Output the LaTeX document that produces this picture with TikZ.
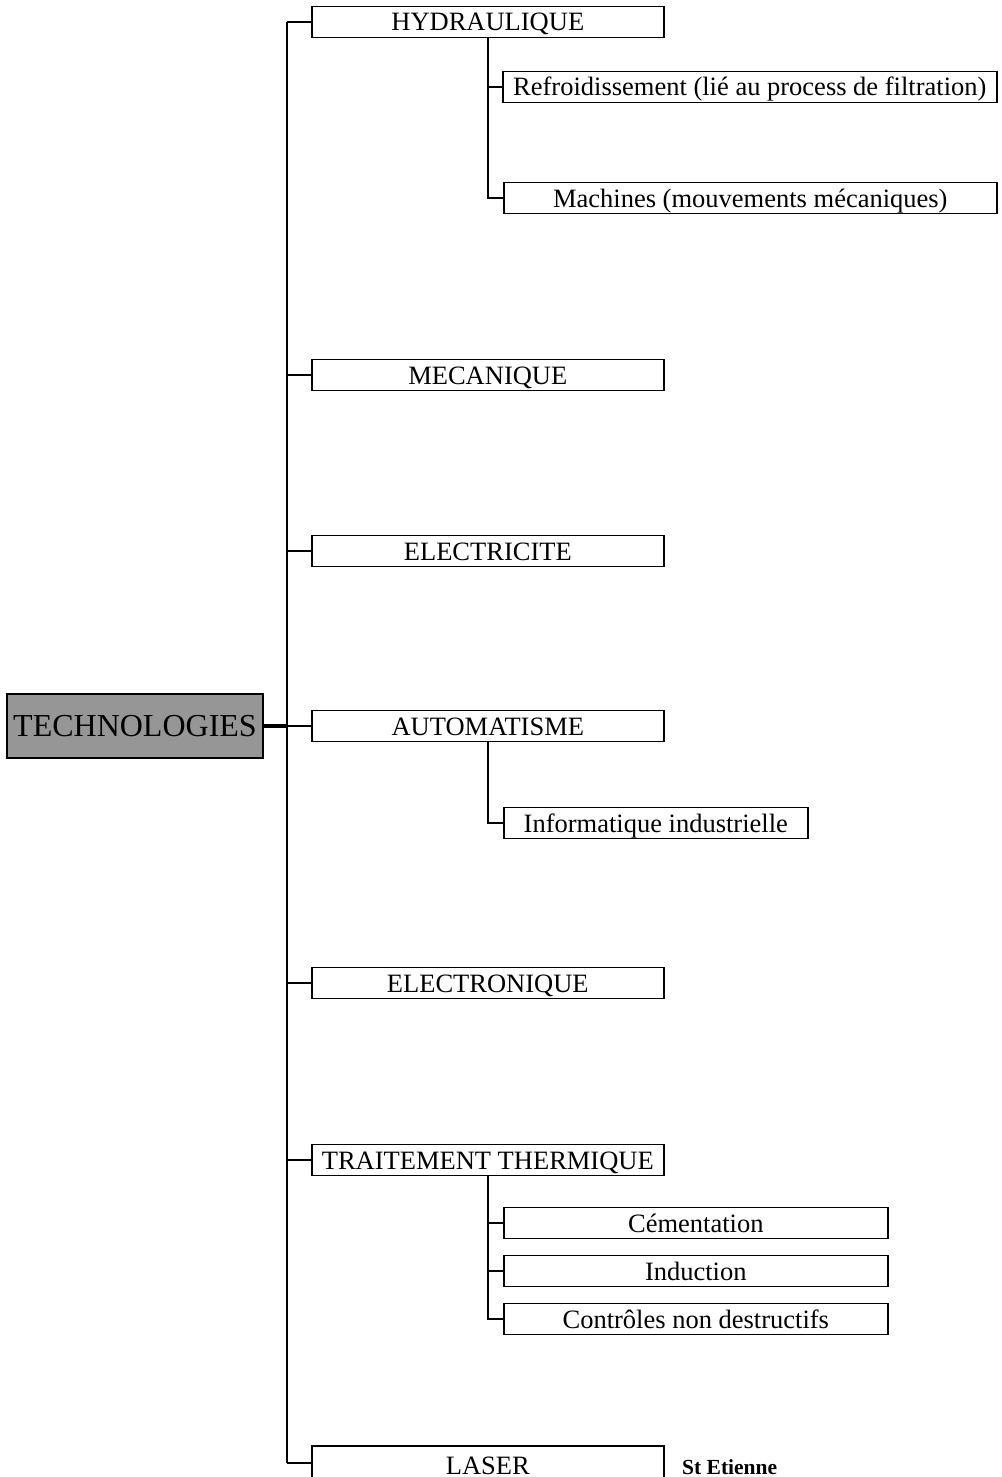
\documentclass[tikz,border=0pt]{standalone}
\usepackage{fontspec}
\setmainfont{Liberation Serif}
\begin{document}
\begin{tikzpicture}[x=1pt,y=-1pt,
  box/.style={draw=black, line width=1.6pt, fill=white, rectangle, inner sep=0pt,
    minimum height=31pt, text height=22pt, text depth=4pt,
    font=\fontsize{26.5}{29}\selectfont, anchor=west},
  root/.style={draw=black, line width=2pt, fill=rootgray, rectangle, inner sep=0pt,
    minimum width=256pt, minimum height=64pt, font=\fontsize{32}{35}\selectfont},
  link/.style={line width=1.5pt},
  trunk/.style={line width=2pt},
  hub/.style={line width=3.5pt}]
\definecolor{rootgray}{RGB}{150,150,150}
\useasboundingbox (0,0) rectangle (1001,1477);

% root
\node[root] (tech) at (135,726) {TECHNOLOGIES};

% first level
\node[box, minimum width=352pt] (hyd) at (311,22) {HYDRAULIQUE};
\node[box, minimum width=352pt] (mec) at (311,375) {MECANIQUE};
\node[box, minimum width=352pt] (ele) at (311,551) {ELECTRICITE};
\node[box, minimum width=352pt] (aut) at (311,726) {AUTOMATISME};
\node[box, minimum width=352pt] (etr) at (311,983) {ELECTRONIQUE};
\node[box, minimum width=352pt] (tth) at (311,1160) {TRAITEMENT THERMIQUE};
\node[box, minimum width=352pt, minimum height=34pt, text height=24pt, text depth=2pt] (las) at (311,1463) {LASER};

% second level
\node[box, minimum width=494pt] (refr) at (502,87) {Refroidissement (lié au process de filtration)};
\node[box, minimum width=493pt] (mach) at (503,198) {Machines (mouvements mécaniques)};
\node[box, minimum width=304pt] (info) at (503,823) {Informatique industrielle};
\node[box, minimum width=384pt] (cem) at (503,1223) {Cémentation};
\node[box, minimum width=384pt] (ind) at (503,1271) {Induction};
\node[box, minimum width=384pt] (cnd) at (503,1319) {Contrôles non destructifs};

% caption
\node[anchor=base west, inner sep=0pt, font=\fontsize{21.5}{23}\bfseries\selectfont] (ste) at (682,1474) {St Etienne};

% trunk
\coordinate (tk) at (287,726);
\draw[trunk] (287,22) -- (287,1463);
\draw[hub] (tech.east) -- (tk);
\foreach \n in {hyd,mec,ele,aut,etr,tth,las}
  \draw[link] (287,0 |- \n.west) -- (\n.west);

% branches
\draw[link] (hyd.south) -- (hyd.south |- mach.west) -- (mach.west);
\draw[link] (hyd.south |- refr.west) -- (refr.west);
\draw[link] (aut.south) -- (aut.south |- info.west) -- (info.west);
\draw[link] (tth.south) -- (tth.south |- cnd.west) -- (cnd.west);
\draw[link] (tth.south |- cem.west) -- (cem.west);
\draw[link] (tth.south |- ind.west) -- (ind.west);
\end{tikzpicture}
\end{document}
